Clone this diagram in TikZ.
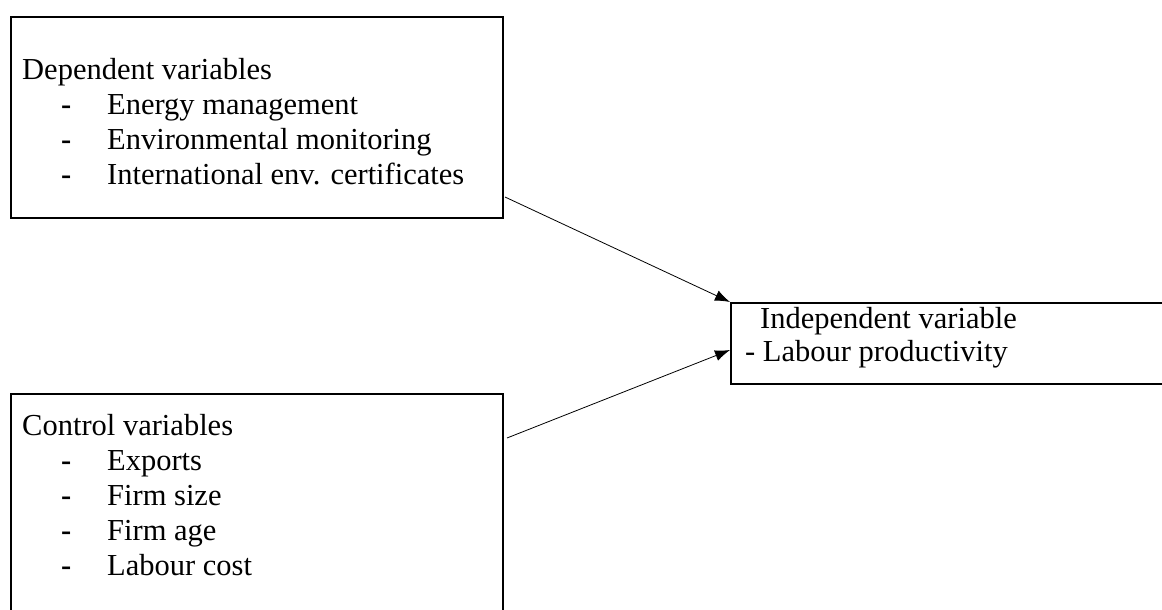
\documentclass[tikz,border=0pt]{standalone}
\usepackage{fontspec}
\setmainfont{Liberation Serif}
\usetikzlibrary{arrows.meta}
\usetikzlibrary{positioning}
\tikzset{box/.style = {draw, line width=1.6pt, rectangle, anchor=north west, inner sep=0}}
\tikzset{txt/.style = {anchor=base west, inner sep=0, font=\fontsize{30.5}{35}\selectfont}}
\tikzset{arr/.style = {line width=0.8pt, -{Latex[length=15pt, width=11pt]}}}

\begin{document}
\begin{tikzpicture}[x=1pt, y=-1pt]
      \useasboundingbox (0,0) rectangle (1162,610);

      % boxes
      \node [box, minimum width=492pt, minimum height=201pt] (dep) at (10,16) {};
      \node [box, minimum width=492pt, minimum height=260pt] (ctrl) at (10,393) {};
      \node [box, minimum width=480pt, minimum height=81pt] (indep) at (730,302) {};

      \node [txt] (deptitle) at (22,79) {Dependent variables};
      \foreach \t [count=\i] in {Energy management, Environmental monitoring, International env. certificates} {
        \node [txt] (depdash\i) at (61, 79 + 35*\i) {\textbf{-}};
        \node [txt] (depitem\i) at (107, 79 + 35*\i) {\t};
      }

      \node [txt] (ctrltitle) at (22,435) {Control variables};
      \foreach \t [count=\i] in {Exports, Firm size, Firm age, Labour cost} {
        \node [txt] (ctrldash\i) at (61, 435 + 35*\i) {\textbf{-}};
        \node [txt] (ctrlitem\i) at (107, 435 + 35*\i) {\t};
      }

      \node [txt] (indeptitle) at (760,328) {Independent variable};
      \node [txt] (indepitem) at (745,361) {- Labour productivity};

      % arrows
      \coordinate (depout) at (505,197);
      \coordinate (ctrlout) at (507,438);
      \coordinate (indepin) at (730,350);
      \draw [arr] (depout) -- (indep.north west);
      \draw [arr] (ctrlout) -- (indepin);
    \end{tikzpicture}
\end{document}
